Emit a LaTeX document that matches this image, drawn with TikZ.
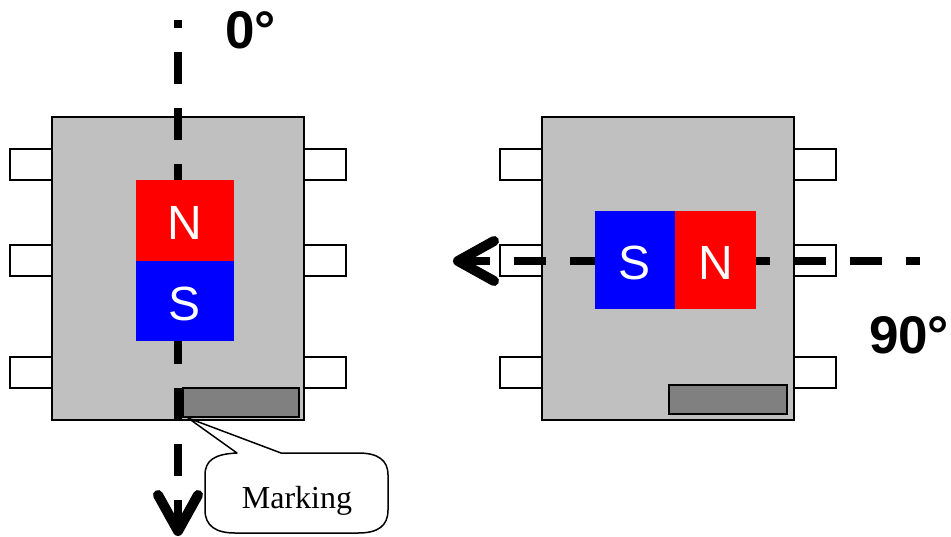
\documentclass[tikz,border=0pt]{standalone}
\usepackage{fontspec}
\newfontfamily\labelfont{Liberation Sans}
\newfontfamily\calloutfont{Liberation Serif}
\usepackage{tikz}
\usetikzlibrary{arrows.meta}
\usetikzlibrary{positioning}
\usetikzlibrary{calc}
\definecolor{bodygray}{HTML}{C0C0C0}
\definecolor{markgray}{HTML}{808080}
\begin{document}
\begin{tikzpicture}[x=1pt,y=-1pt,line width=2pt,every node/.style={outer sep=0pt}]
\tikzstyle{chip}=[draw,fill=bodygray,minimum width=252pt,minimum height=303pt,inner sep=0pt,anchor=north west]
\tikzstyle{pinbox}=[draw,fill=white,minimum width=42pt,minimum height=31pt,inner sep=0pt]
\tikzstyle{pole}=[text=white,inner sep=0pt,text height=38.5pt,text depth=0pt,font=\labelfont\fontsize{48}{48}\selectfont]
\tikzstyle{markbox}=[draw,fill=markgray,inner sep=0pt,anchor=north west,minimum width=116pt,minimum height=29pt]
\tikzstyle{anglelabel}=[inner sep=0pt,anchor=west,font=\labelfont\bfseries\fontsize{53}{53}\selectfont]
\tikzstyle{axisline}=[line width=8pt,dash pattern=on 32pt off 24pt,-{Straight Barb[length=36pt,width=40pt,round,line width=10pt]}]
\useasboundingbox (0,0) rectangle (951,536);

\node [chip] (chipa) at (52,117) {};
\node [chip] (chipb) at (542,117) {};

% pins
\foreach \c in {a,b}{
  \foreach \n/\d in {1/47.5pt,2/143.5pt,3/255.5pt}{
    \node [pinbox,anchor=east] (pin\c l\n) at ([yshift=-\d]chip\c.north west) {};
    \node [pinbox,anchor=west] (pin\c r\n) at ([yshift=-\d]chip\c.north east) {};
  }
}

\coordinate (A) at (178,20);
\coordinate (B) at (178,536);
\coordinate (C) at (920,261);
\coordinate (D) at (453,261);
\draw[axisline,dash phase=24pt] (A) -- (B);
\draw[axisline,dash phase=18pt] (C) -- (D);

% magnets
\node [pole,fill=red,minimum width=98pt,minimum height=81pt,anchor=north west] (na) at (136,180) {N};
\node [pole,fill=blue,minimum width=98pt,minimum height=80pt,below=0pt of na] (sa) {S};
\node [pole,fill=blue,minimum width=80pt,minimum height=98pt,anchor=north west] (sb) at (595,211) {S};
\node [pole,fill=red,minimum width=81pt,minimum height=98pt,right=0pt of sb] (nb) {N};

\node [markbox] (marka) at (183,388) {};
\node [markbox,minimum width=118pt] (markb) at (669,385) {};

% callout
\coordinate (T) at (188,418);
\draw[fill=white,line width=1.5pt,line join=round] (T) -- (237,453)
  .. controls (215,454) and (205,460) .. (205,475) -- (205,510)
  .. controls (205,526) and (216,533) .. (235,533) -- (358,533)
  .. controls (378,533) and (388,526) .. (388,510) -- (388,475)
  .. controls (388,460) and (378,453) .. (358,453) -- (281,453) -- cycle;
\node [inner sep=0pt,anchor=base,font=\calloutfont\fontsize{32}{32}\selectfont] (marking) at (297,508) {Marking};

\node [anglelabel] (zero) at (225,30) {0°};
\node [anglelabel] (ninety) at (869,335) {90°};
\end{tikzpicture}
\end{document}
